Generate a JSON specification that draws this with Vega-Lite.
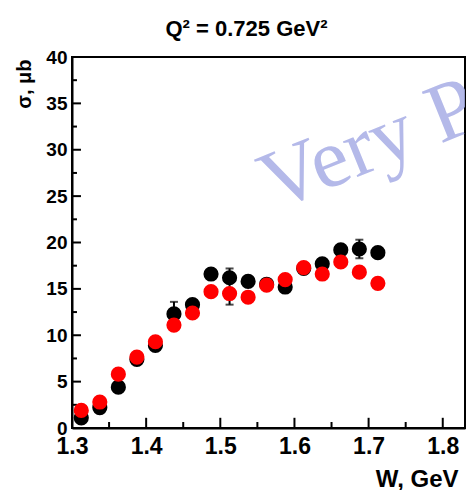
{
  "$schema": "https://vega.github.io/schema/vega-lite/v6.json",
  "width": 393,
  "height": 371,
  "autosize": {"type": "none"},
  "padding": {"left": 72, "top": 57, "right": 1, "bottom": 62},
  "background": "white",
  "config": {
    "view": {"stroke": "black", "strokeWidth": 2},
    "font": "Liberation Sans"
  },
  "title": {
    "text": "Q² = 0.725 GeV²",
    "font": "Liberation Sans",
    "fontSize": 22,
    "fontWeight": "bold",
    "color": "black",
    "anchor": "middle",
    "frame": "group",
    "dx": -22,
    "offset": 7
  },
  "datasets": {
    "pts": [
      {"W": 1.3125, "sigma": 1.1, "lo": 0.8, "hi": 1.4, "series": "black"},
      {"W": 1.3375, "sigma": 2.2, "lo": 1.9, "hi": 2.5, "series": "black"},
      {"W": 1.3625, "sigma": 4.4, "lo": 4.1, "hi": 4.7, "series": "black"},
      {"W": 1.3875, "sigma": 7.4, "lo": 7.1, "hi": 7.7, "series": "black"},
      {"W": 1.4125, "sigma": 8.9, "lo": 8.6, "hi": 9.2, "series": "black"},
      {"W": 1.4375, "sigma": 12.3, "lo": 11.0, "hi": 13.6, "series": "black"},
      {"W": 1.4625, "sigma": 13.3, "lo": 13.0, "hi": 13.6, "series": "black"},
      {"W": 1.4875, "sigma": 16.6, "lo": 16.2, "hi": 17.0, "series": "black"},
      {"W": 1.5125, "sigma": 16.2, "lo": 13.3, "hi": 17.2, "series": "black"},
      {"W": 1.5375, "sigma": 15.8, "lo": 15.4, "hi": 16.2, "series": "black"},
      {"W": 1.5625, "sigma": 15.5, "lo": 15.1, "hi": 15.9, "series": "black"},
      {"W": 1.5875, "sigma": 15.2, "lo": 14.8, "hi": 15.6, "series": "black"},
      {"W": 1.6125, "sigma": 17.2, "lo": 16.8, "hi": 17.6, "series": "black"},
      {"W": 1.6375, "sigma": 17.7, "lo": 17.3, "hi": 18.1, "series": "black"},
      {"W": 1.6625, "sigma": 19.2, "lo": 18.8, "hi": 19.6, "series": "black"},
      {"W": 1.6875, "sigma": 19.3, "lo": 18.3, "hi": 20.3, "series": "black"},
      {"W": 1.7125, "sigma": 18.9, "lo": 18.5, "hi": 19.3, "series": "black"},
      {"W": 1.3125, "sigma": 1.9, "lo": 1.6, "hi": 2.2, "series": "red"},
      {"W": 1.3375, "sigma": 2.8, "lo": 2.5, "hi": 3.1, "series": "red"},
      {"W": 1.3625, "sigma": 5.8, "lo": 5.5, "hi": 6.1, "series": "red"},
      {"W": 1.3875, "sigma": 7.65, "lo": 7.35, "hi": 7.95, "series": "red"},
      {"W": 1.4125, "sigma": 9.3, "lo": 9.0, "hi": 9.6, "series": "red"},
      {"W": 1.4375, "sigma": 11.1, "lo": 10.7, "hi": 11.5, "series": "red"},
      {"W": 1.4625, "sigma": 12.4, "lo": 12.0, "hi": 12.8, "series": "red"},
      {"W": 1.4875, "sigma": 14.7, "lo": 14.3, "hi": 15.1, "series": "red"},
      {"W": 1.5125, "sigma": 14.5, "lo": 14.1, "hi": 14.9, "series": "red"},
      {"W": 1.5375, "sigma": 14.1, "lo": 13.7, "hi": 14.5, "series": "red"},
      {"W": 1.5625, "sigma": 15.4, "lo": 15.0, "hi": 15.8, "series": "red"},
      {"W": 1.5875, "sigma": 16.0, "lo": 15.6, "hi": 16.4, "series": "red"},
      {"W": 1.6125, "sigma": 17.3, "lo": 16.9, "hi": 17.7, "series": "red"},
      {"W": 1.6375, "sigma": 16.6, "lo": 16.2, "hi": 17.0, "series": "red"},
      {"W": 1.6625, "sigma": 17.9, "lo": 17.5, "hi": 18.3, "series": "red"},
      {"W": 1.6875, "sigma": 16.8, "lo": 16.4, "hi": 17.2, "series": "red"},
      {"W": 1.7125, "sigma": 15.6, "lo": 15.2, "hi": 16.0, "series": "red"}
    ],
    "mark": [
      {"W": 1.572, "sigma": 23.4, "label": "Very Preliminary"}
    ],
    "xticks": [
      {"W": 1.35, "kind": "minor"}, {"W": 1.4, "kind": "major"},
      {"W": 1.45, "kind": "minor"}, {"W": 1.5, "kind": "major"},
      {"W": 1.55, "kind": "minor"}, {"W": 1.6, "kind": "major"},
      {"W": 1.65, "kind": "minor"}, {"W": 1.7, "kind": "major"},
      {"W": 1.75, "kind": "minor"}, {"W": 1.8, "kind": "major"}
    ],
    "yticks": [
      {"sigma": 2.5, "kind": "minor"}, {"sigma": 5, "kind": "major"},
      {"sigma": 7.5, "kind": "minor"}, {"sigma": 10, "kind": "major"},
      {"sigma": 12.5, "kind": "minor"}, {"sigma": 15, "kind": "major"},
      {"sigma": 17.5, "kind": "minor"}, {"sigma": 20, "kind": "major"},
      {"sigma": 22.5, "kind": "minor"}, {"sigma": 25, "kind": "major"},
      {"sigma": 27.5, "kind": "minor"}, {"sigma": 30, "kind": "major"},
      {"sigma": 32.5, "kind": "minor"}, {"sigma": 35, "kind": "major"},
      {"sigma": 37.5, "kind": "minor"}
    ]
  },
  "layer": [
    {
      "data": {"name": "mark"},
      "mark": {
        "type": "text",
        "align": "left",
        "baseline": "alphabetic",
        "angle": -22,
        "font": "Liberation Serif",
        "fontSize": 84,
        "color": "#a7ade6",
        "opacity": 0.85,
        "clip": true
      },
      "encoding": {
        "x": {"field": "W", "type": "quantitative", "scale": {"domain": [1.3, 1.83], "nice": false, "zero": false}},
        "y": {"field": "sigma", "type": "quantitative", "scale": {"domain": [0, 40], "nice": false}},
        "text": {"field": "label"}
      }
    },
    {
      "data": {"name": "xticks"},
      "transform": [{"filter": "datum.kind === 'major'"}],
      "mark": {"type": "rule", "strokeWidth": 2, "color": "black"},
      "encoding": {
        "x": {"field": "W", "type": "quantitative"},
        "y": {"datum": 0, "type": "quantitative"},
        "y2": {"datum": 1.1}
      }
    },
    {
      "data": {"name": "xticks"},
      "transform": [{"filter": "datum.kind === 'minor'"}],
      "mark": {"type": "rule", "strokeWidth": 2, "color": "black"},
      "encoding": {
        "x": {"field": "W", "type": "quantitative"},
        "y": {"datum": 0, "type": "quantitative"},
        "y2": {"datum": 0.65}
      }
    },
    {
      "data": {"name": "yticks"},
      "transform": [{"filter": "datum.kind === 'major'"}],
      "mark": {"type": "rule", "strokeWidth": 2, "color": "black"},
      "encoding": {
        "y": {"field": "sigma", "type": "quantitative"},
        "x": {"datum": 1.3, "type": "quantitative"},
        "x2": {"datum": 1.3121}
      }
    },
    {
      "data": {"name": "yticks"},
      "transform": [{"filter": "datum.kind === 'minor'"}],
      "mark": {"type": "rule", "strokeWidth": 2, "color": "black"},
      "encoding": {
        "y": {"field": "sigma", "type": "quantitative"},
        "x": {"datum": 1.3, "type": "quantitative"},
        "x2": {"datum": 1.3067}
      }
    },
    {
      "data": {"name": "pts"},
      "mark": {"type": "rule", "strokeWidth": 2},
      "encoding": {
        "x": {"field": "W", "type": "quantitative"},
        "y": {"field": "lo", "type": "quantitative"},
        "y2": {"field": "hi"},
        "color": {"field": "series", "type": "nominal", "scale": {"domain": ["black", "red"], "range": ["#000000", "#ff0000"]}, "legend": null}
      }
    },
    {
      "data": {"name": "pts"},
      "mark": {"type": "tick", "orient": "horizontal", "size": 8, "thickness": 2},
      "encoding": {
        "x": {"field": "W", "type": "quantitative"},
        "y": {"field": "hi", "type": "quantitative"},
        "color": {"field": "series", "type": "nominal", "legend": null}
      }
    },
    {
      "data": {"name": "pts"},
      "mark": {"type": "tick", "orient": "horizontal", "size": 8, "thickness": 2},
      "encoding": {
        "x": {"field": "W", "type": "quantitative"},
        "y": {"field": "lo", "type": "quantitative"},
        "color": {"field": "series", "type": "nominal", "legend": null}
      }
    },
    {
      "data": {"name": "pts"},
      "mark": {"type": "point", "shape": "circle", "filled": true, "size": 230, "opacity": 1},
      "encoding": {
        "x": {
          "field": "W",
          "type": "quantitative",
          "axis": {
            "values": [1.3, 1.4, 1.5, 1.6, 1.7, 1.8],
            "format": ".1f",
            "ticks": false,
            "domainColor": "black",
            "domainWidth": 2,
            "grid": false,
            "labelFont": "Liberation Sans",
            "labelFontSize": 23,
            "labelFontWeight": "bold",
            "labelColor": "black",
            "labelPadding": 7,
            "labelFlush": false,
            "labelOverlap": false,
            "title": "W, GeV",
            "titleFont": "Liberation Sans",
            "titleFontSize": 24,
            "titleFontWeight": "bold",
            "titleColor": "black",
            "titleAlign": "right",
            "titleAnchor": "end",
            "titleBaseline": "alphabetic",
            "titleX": 386,
            "titleY": 58
          }
        },
        "y": {
          "field": "sigma",
          "type": "quantitative",
          "axis": {
            "values": [0, 5, 10, 15, 20, 25, 30, 35, 40],
            "format": "d",
            "ticks": false,
            "domainColor": "black",
            "domainWidth": 2,
            "grid": false,
            "labelFont": "Liberation Sans",
            "labelFontSize": 19,
            "labelFontWeight": "bold",
            "labelColor": "black",
            "labelPadding": 5,
            "labelFlush": false,
            "labelOverlap": false,
            "title": "σ, μb",
            "titleFont": "Liberation Sans",
            "titleFontSize": 20,
            "titleFontWeight": "bold",
            "titleColor": "black",
            "titleAngle": 270,
            "titleAlign": "right",
            "titleBaseline": "alphabetic",
            "titleX": -42,
            "titleY": 2
          }
        },
        "color": {"field": "series", "type": "nominal", "legend": null}
      }
    }
  ]
}
